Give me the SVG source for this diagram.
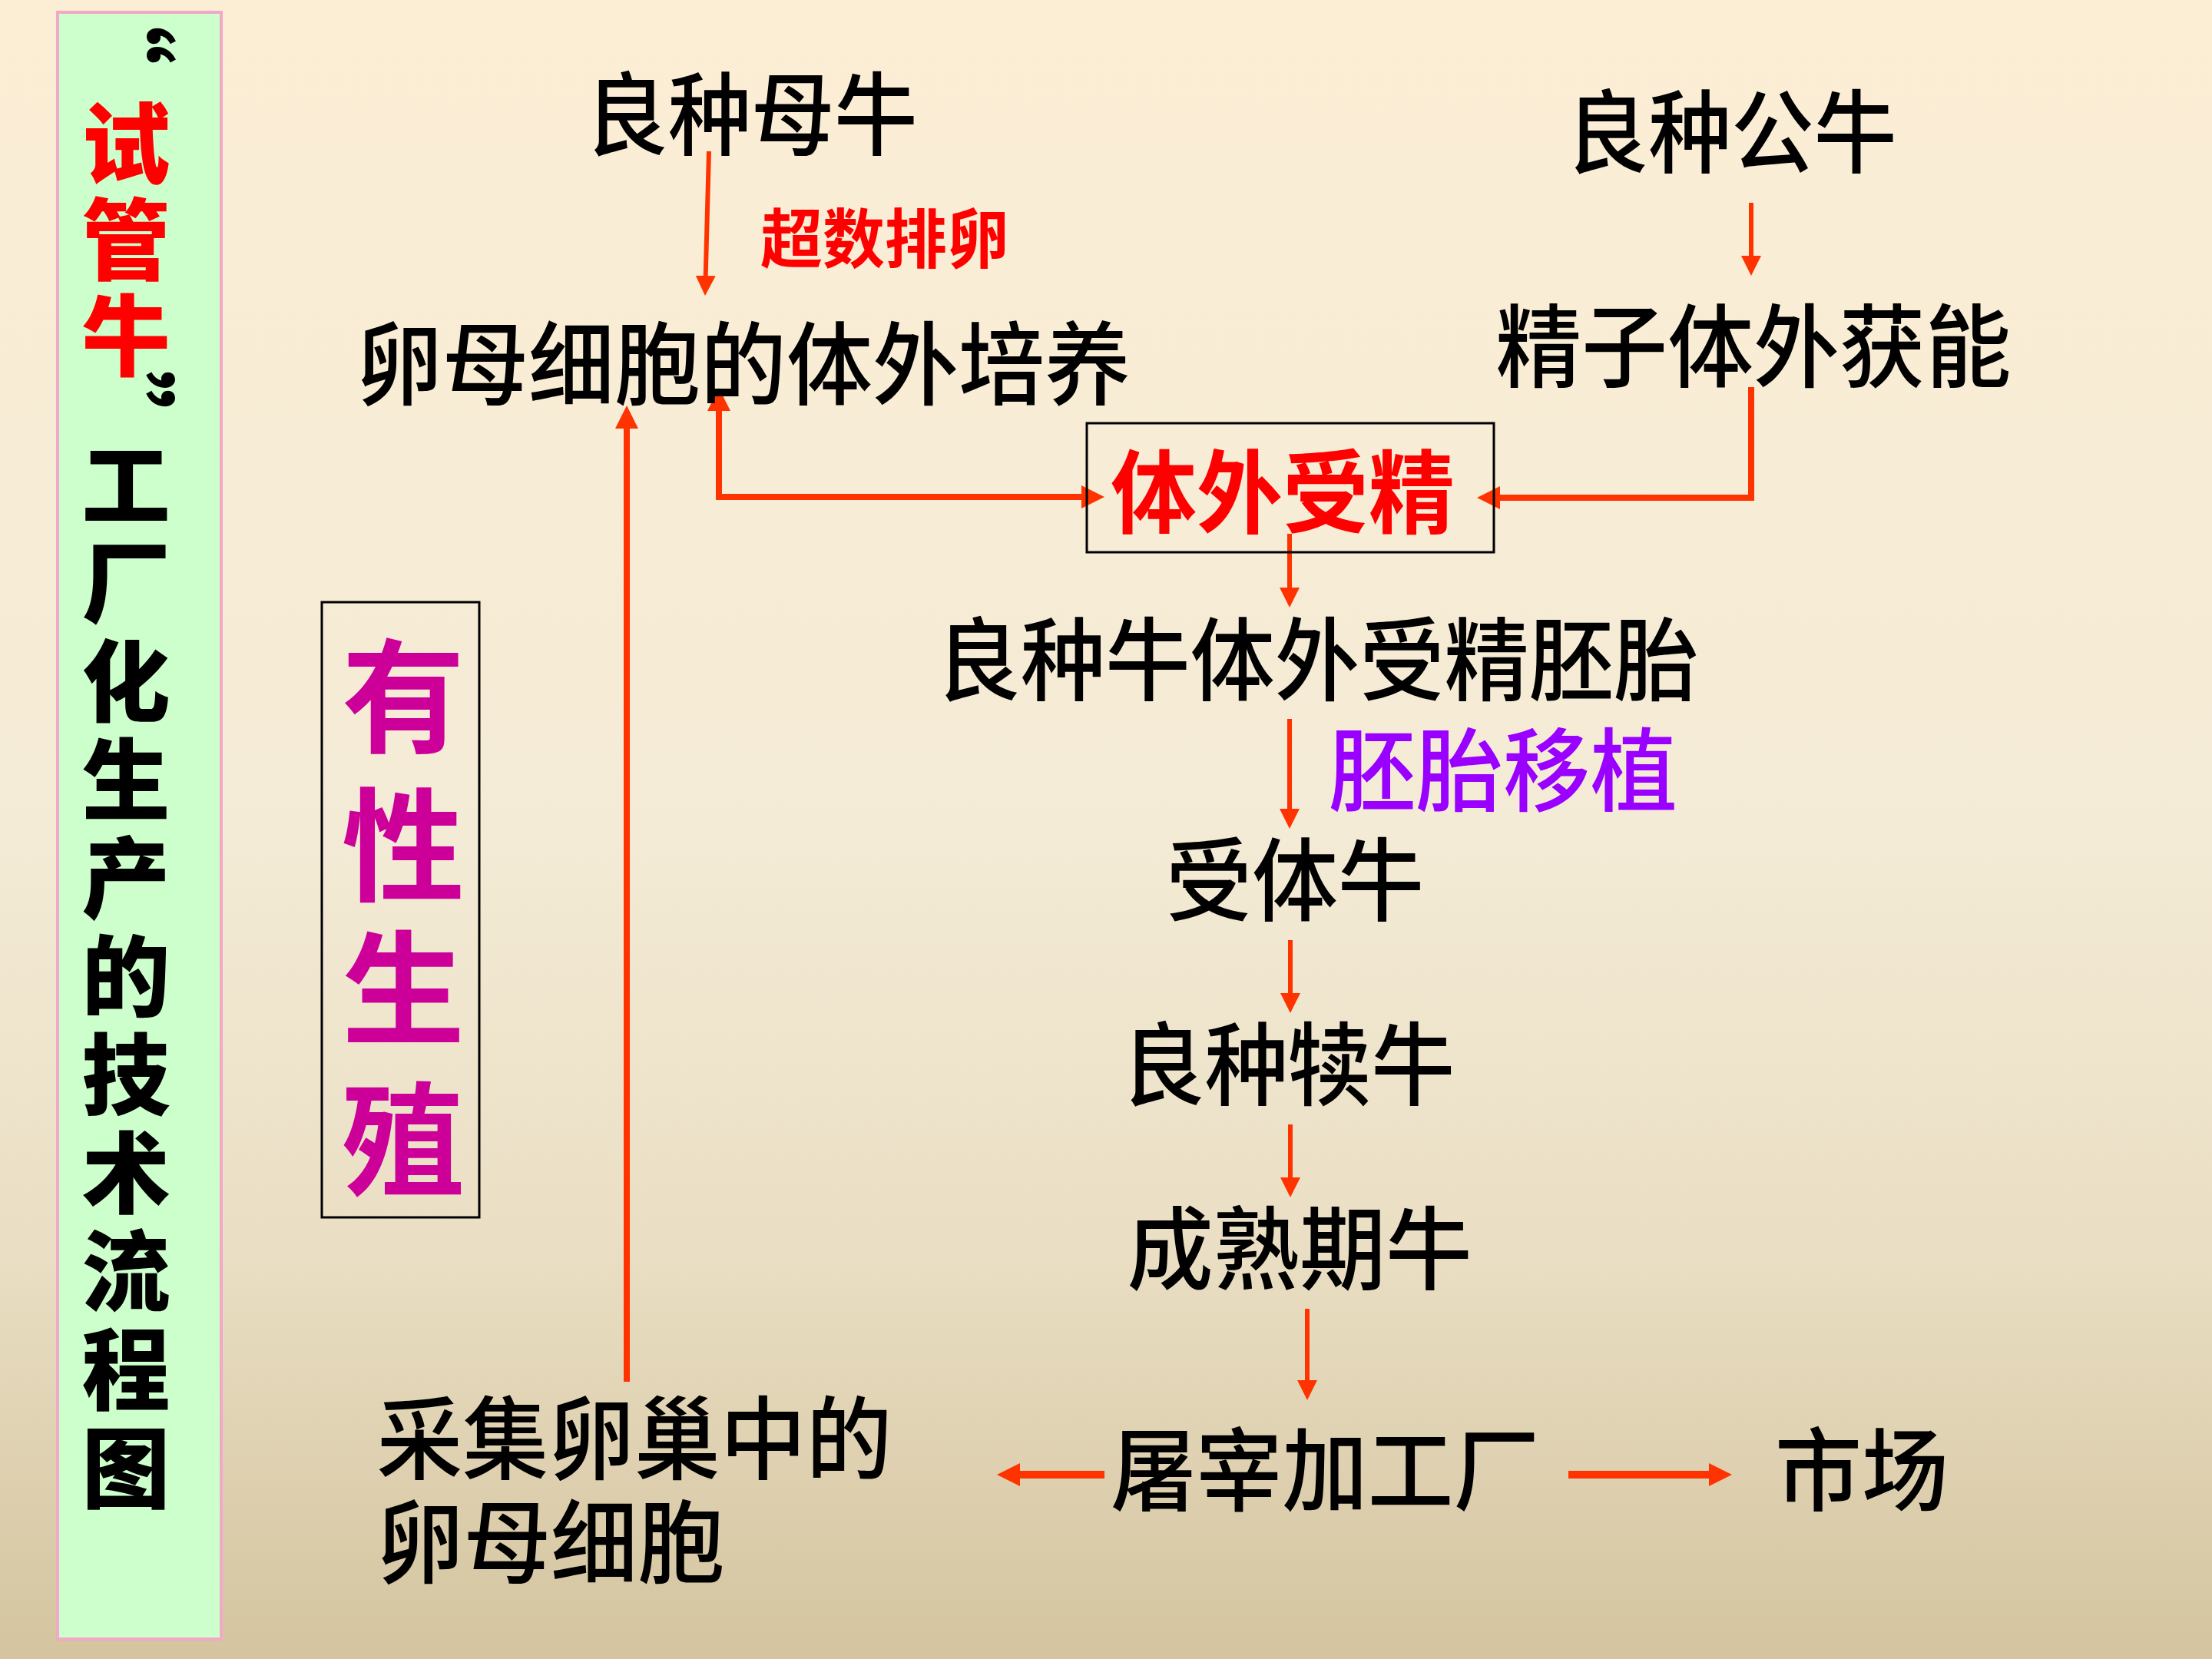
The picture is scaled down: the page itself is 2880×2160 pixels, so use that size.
<svg xmlns="http://www.w3.org/2000/svg" width="2880" height="2160" viewBox="0 0 2880 2160">
<defs>
<linearGradient id="bg" x1="0" y1="0" x2="0" y2="1">
<stop offset="0" stop-color="#FCEED5"/>
<stop offset="0.5" stop-color="#F4EBD6"/>
<stop offset="0.75" stop-color="#EADFC4"/>
<stop offset="1" stop-color="#D4C49F"/>
</linearGradient>
<marker id="a" viewBox="0 0 26 26" markerWidth="26" markerHeight="26" refX="16" refY="13" orient="auto-start-reverse" markerUnits="userSpaceOnUse">
<path d="M0,0 L26,13 L0,26 z" fill="#FF3300"/>
</marker>
<marker id="b" viewBox="0 0 30 30" markerWidth="30" markerHeight="30" refX="18" refY="15" orient="auto-start-reverse" markerUnits="userSpaceOnUse">
<path d="M0,0 L30,15 L0,30 z" fill="#FF3300"/>
</marker>
<style>
.t{font-family:"Noto Sans CJK SC","Noto Sans CJK TC",sans-serif;font-size:118px;font-weight:500;fill:#000;text-anchor:middle}
.v{font-family:"Noto Sans CJK SC",sans-serif;font-size:115px;font-weight:900;text-anchor:middle}
.c{fill:none;stroke:#FF3300;stroke-width:6}
.k{fill:none;stroke:#FF3300;stroke-width:8}
</style>
</defs>
<rect x="0" y="0" width="2880" height="2160" fill="url(#bg)"/>

<g id="title-panel">
<rect x="75" y="16" width="213" height="2118" fill="#CCFFCC" stroke="#F2A8C8" stroke-width="4"/>
<text transform="translate(129,26) rotate(90)" class="v" font-size="130" fill="#000">“</text>
<text x="164" y="230" class="v" fill="#FF0000">试</text>
<text x="164" y="355" class="v" fill="#FF0000">管</text>
<text x="164" y="480" class="v" fill="#FF0000">牛</text>
<text transform="translate(129,540) rotate(90)" class="v" font-size="130" fill="#000">”</text>
<text x="164" y="674" class="v" fill="#000">工</text>
<text x="164" y="802" class="v" fill="#000">厂</text>
<text x="164" y="930" class="v" fill="#000">化</text>
<text x="164" y="1058" class="v" fill="#000">生</text>
<text x="164" y="1186" class="v" fill="#000">产</text>
<text x="164" y="1314" class="v" fill="#000">的</text>
<text x="164" y="1442" class="v" fill="#000">技</text>
<text x="164" y="1570" class="v" fill="#000">术</text>
<text x="164" y="1698" class="v" fill="#000">流</text>
<text x="164" y="1826" class="v" fill="#000">程</text>
<text x="164" y="1954" class="v" fill="#000">图</text>
</g>

<g id="sexual-reproduction">
<rect x="419" y="784" width="205" height="801" fill="none" stroke="#000" stroke-width="3"/>
<g font-family="Noto Sans CJK SC, sans-serif" font-size="160" font-weight="700" fill="#CC0099" text-anchor="middle">
<text x="525" y="967">有</text>
<text x="525" y="1161">性</text>
<text x="525" y="1347">生</text>
<text x="525" y="1544">殖</text>
</g>
</g>

<g id="connectors">
<path class="c" d="M923,197 L918.3,375" marker-end="url(#a)"/>
<path class="c" d="M2280,264 V349" marker-end="url(#a)"/>
<path class="k" d="M2280,504 V648 H1935" marker-end="url(#b)"/>
<path class="k" d="M936,517 V647 H1426" marker-start="url(#b)" marker-end="url(#b)"/>
<path class="k" d="M816,1799 V540" marker-end="url(#b)"/>
<path class="c" d="M1679,695 V781" marker-end="url(#a)"/>
<path class="c" d="M1679,936 V1069" marker-end="url(#a)"/>
<path class="c" d="M1680,1224 V1309" marker-end="url(#a)"/>
<path class="c" d="M1680,1464 V1549" marker-end="url(#a)"/>
<path class="c" d="M1702,1704 V1813" marker-end="url(#a)"/>
<path class="k" style="stroke-width:10" d="M1438,1920 H1310" marker-end="url(#b)"/>
<path class="k" style="stroke-width:10" d="M2042,1920 H2243" marker-end="url(#b)"/>
<text x="1152" y="342" font-family="Noto Sans CJK SC, sans-serif" font-size="84" font-weight="700" fill="#FF0000" text-anchor="middle" textLength="324" lengthAdjust="spacingAndGlyphs">超数排卵</text>
<text x="1957" y="1047" class="t" style="fill:#9900FF" textLength="454" lengthAdjust="spacingAndGlyphs">胚胎移植</text>
</g>

<g id="n-cow">
<text x="978" y="193" class="t" textLength="433" lengthAdjust="spacingAndGlyphs">良种母牛</text>
</g>
<g id="n-oocyte-culture">
<text x="968" y="518" class="t" textLength="1008" lengthAdjust="spacingAndGlyphs">卵母细胞的体外培养</text>
</g>
<g id="n-bull">
<text x="2254" y="216" class="t" textLength="431" lengthAdjust="spacingAndGlyphs">良种公牛</text>
</g>
<g id="n-sperm">
<text x="2283" y="495" class="t" textLength="671" lengthAdjust="spacingAndGlyphs">精子体外获能</text>
</g>
<g id="n-ivf">
<rect x="1415" y="551" width="530" height="168" fill="none" stroke="#000" stroke-width="3"/>
<text x="1670" y="685" class="t" style="fill:#FF0000;font-weight:700" textLength="448" lengthAdjust="spacingAndGlyphs">体外受精</text>
</g>
<g id="n-embryo">
<text x="1715" y="903" class="t" textLength="993" lengthAdjust="spacingAndGlyphs">良种牛体外受精胚胎</text>
</g>
<g id="n-recipient">
<text x="1686" y="1190" class="t" textLength="336" lengthAdjust="spacingAndGlyphs">受体牛</text>
</g>
<g id="n-calf">
<text x="1677" y="1430" class="t" textLength="434" lengthAdjust="spacingAndGlyphs">良种犊牛</text>
</g>
<g id="n-mature">
<text x="1692" y="1670" class="t" textLength="449" lengthAdjust="spacingAndGlyphs">成熟期牛</text>
</g>
<g id="n-collect">
<text x="826" y="1917" class="t" textLength="671" lengthAdjust="spacingAndGlyphs">采集卵巢中的</text>
<text x="717" y="2052" class="t" textLength="453" lengthAdjust="spacingAndGlyphs">卵母细胞</text>
</g>
<g id="n-slaughter">
<text x="1725" y="1958" class="t" textLength="558" lengthAdjust="spacingAndGlyphs">屠宰加工厂</text>
</g>
<g id="n-market">
<text x="2424" y="1958" class="t" textLength="226" lengthAdjust="spacingAndGlyphs">市场</text>
</g>
</svg>
